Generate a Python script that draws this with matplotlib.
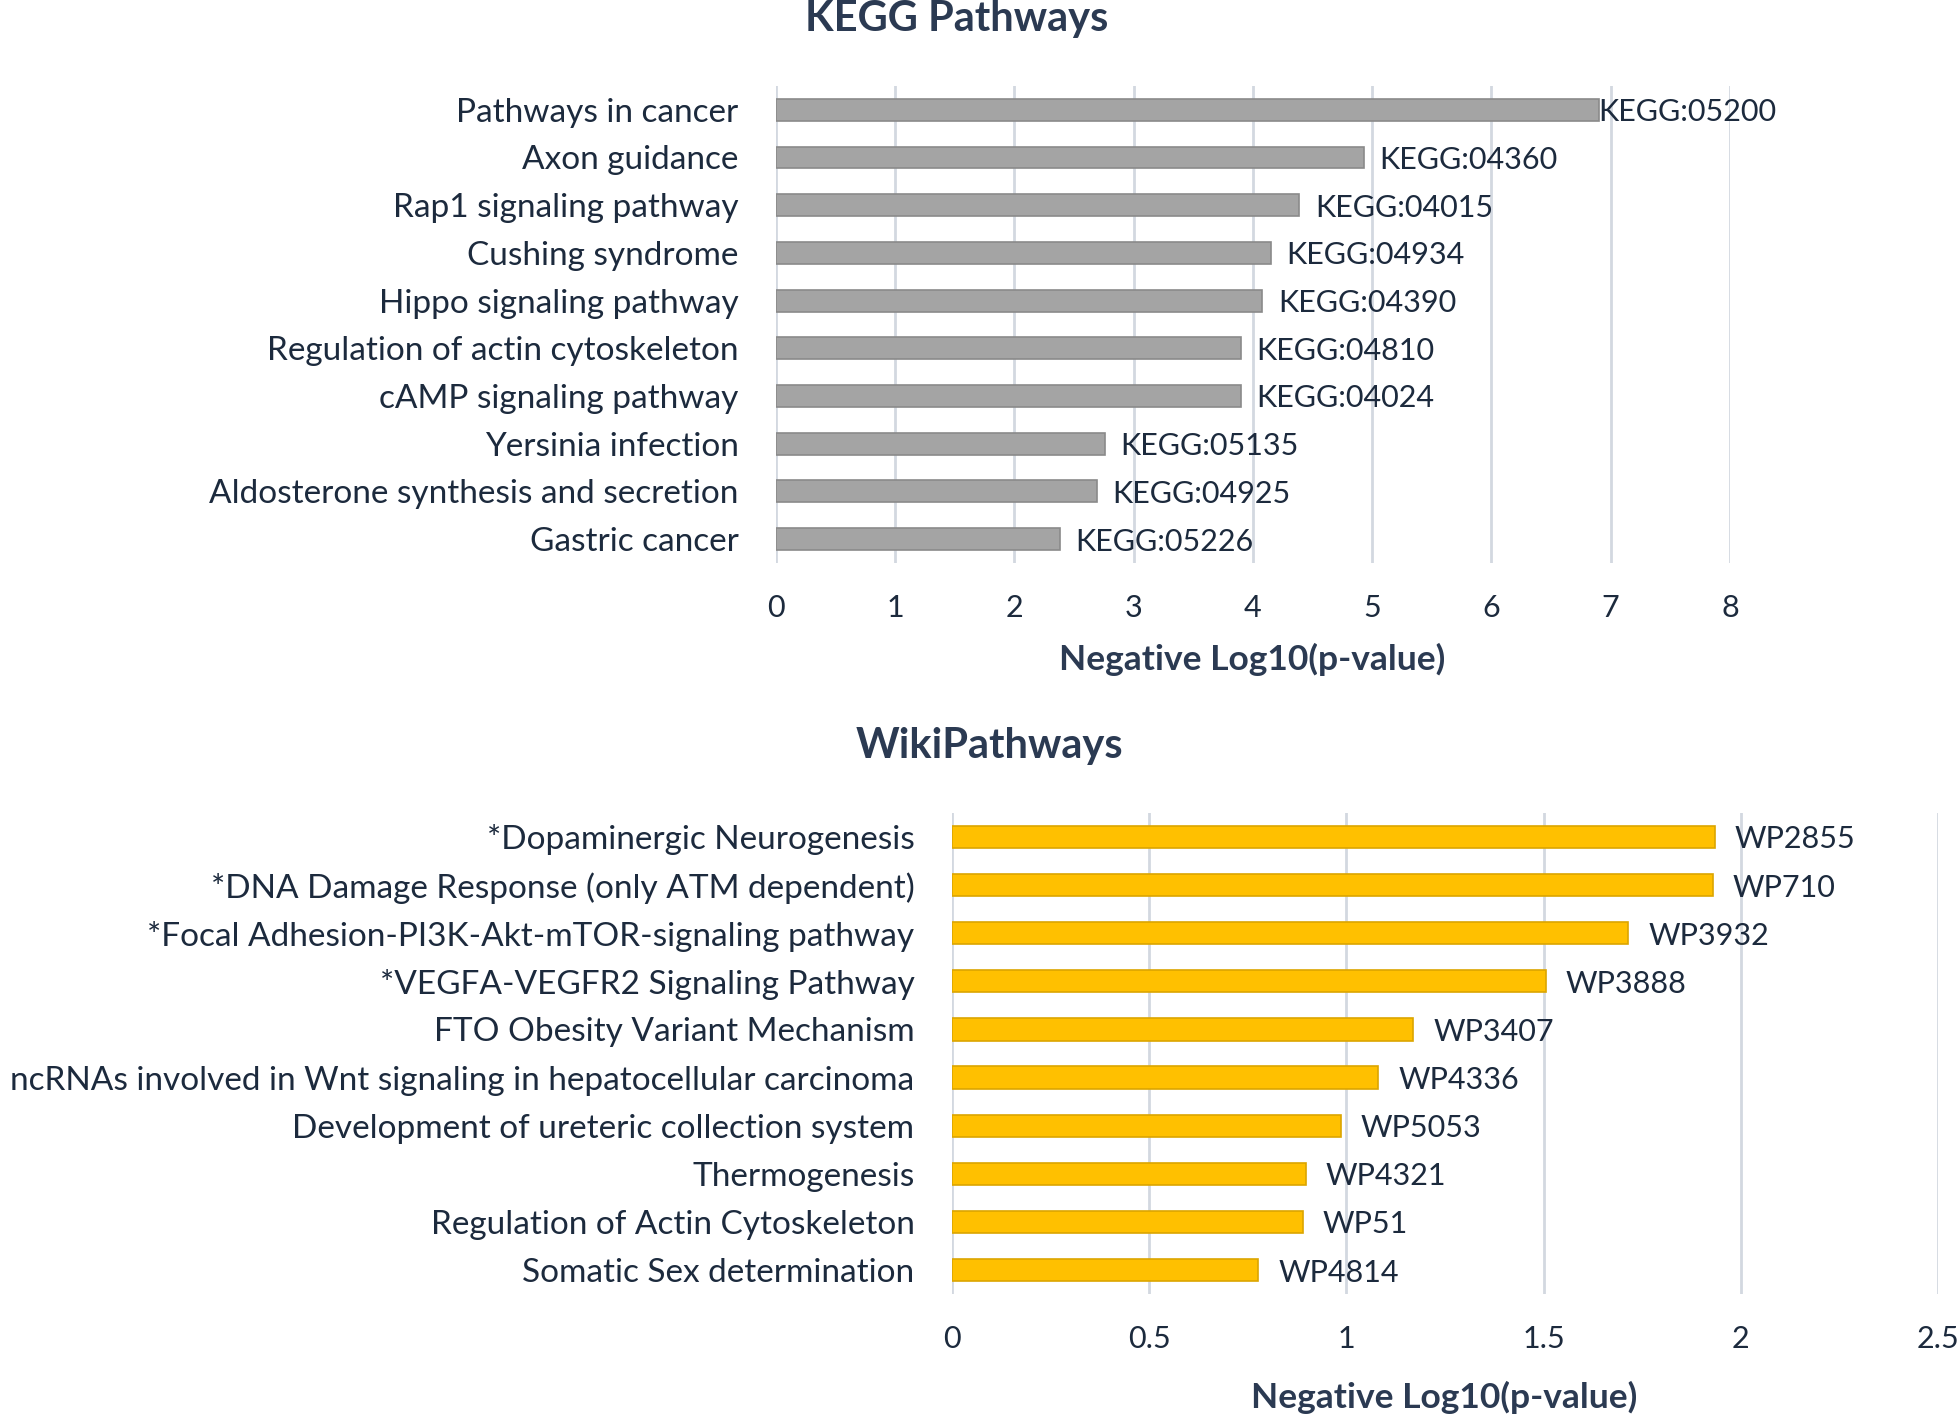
import matplotlib
matplotlib.use("Agg")
import matplotlib.pyplot as plt

plt.rcParams["font.family"] = ["Lato", "DejaVu Sans"]

kegg_names = [
    "Pathways in cancer", "Axon guidance", "Rap1 signaling pathway",
    "Cushing syndrome", "Hippo signaling pathway",
    "Regulation of actin cytoskeleton", "cAMP signaling pathway",
    "Yersinia infection", "Aldosterone synthesis and secretion",
    "Gastric cancer",
]
kegg_ids = [
    "KEGG:05200", "KEGG:04360", "KEGG:04015", "KEGG:04934", "KEGG:04390",
    "KEGG:04810", "KEGG:04024", "KEGG:05135", "KEGG:04925", "KEGG:05226",
]
kegg_vals = [6.90, 4.93, 4.39, 4.15, 4.08, 3.90, 3.90, 2.76, 2.69, 2.38]
kegg_ticks = [0, 1, 2, 3, 4, 5, 6, 7, 8]

wiki_names = [
    "*Dopaminergic Neurogenesis",
    "*DNA Damage Response (only ATM dependent)",
    "*Focal Adhesion-PI3K-Akt-mTOR-signaling pathway",
    "*VEGFA-VEGFR2 Signaling Pathway",
    "FTO Obesity Variant Mechanism",
    "ncRNAs involved in Wnt signaling in hepatocellular carcinoma",
    "Development of ureteric collection system",
    "Thermogenesis",
    "Regulation of Actin Cytoskeleton",
    "Somatic Sex determination",
]
wiki_ids = [
    "WP2855", "WP710", "WP3932", "WP3888", "WP3407",
    "WP4336", "WP5053", "WP4321", "WP51", "WP4814",
]
wiki_vals = [1.934, 1.930, 1.715, 1.505, 1.170, 1.081, 0.987, 0.897, 0.889, 0.777]
wiki_ticks = [0, 0.5, 1, 1.5, 2, 2.5]
wiki_tick_labels = ["0", "0.5", "1", "1.5", "2", "2.5"]

TEXT = "#1c2a3d"
TITLE = "#2b3a52"
GRID = "#d3d8e0"
FS_NAME = 24
FS_ID = 22
FS_TICK = 22


def panel(ax, names, ids, vals, ticks, tick_labels, color, edge, xmax, pad, tight_over):
    y = list(range(len(names)))
    ax.barh(y, vals, height=0.46, color=color, edgecolor=edge, linewidth=1.2, zorder=3)
    for yi, v, lab in zip(y, vals, ids):
        off = 0 if v > tight_over else pad
        ax.text(v + off, yi, lab, va="center_baseline", ha="left", fontsize=FS_ID,
                color=TEXT, zorder=4)
    ax.set_ylim(len(names) - 0.5, -0.5)
    ax.set_xlim(0, xmax)
    ax.set_yticks(y)
    ax.set_yticklabels(names, fontsize=FS_NAME, color=TEXT, va="center_baseline")
    ax.set_xticks(ticks)
    ax.set_xticklabels(tick_labels, fontsize=FS_TICK, color=TEXT)
    ax.tick_params(axis="both", length=0)
    ax.tick_params(axis="y", pad=27)
    ax.tick_params(axis="x", pad=22)
    ax.grid(axis="x", color=GRID, linewidth=2, zorder=0)
    for s in ax.spines.values():
        s.set_visible(False)


fig = plt.figure(figsize=(19.6, 14.18), dpi=100)

ax1 = fig.add_axes([0.3959, 0.6030, 0.4867, 0.3364])
panel(ax1, kegg_names, kegg_ids, kegg_vals, kegg_ticks,
      [str(t) for t in kegg_ticks], "#a4a4a4", "#8a8a8a", 8, 0.13, 6.5)

ax2 = fig.add_axes([0.4857, 0.0874, 0.5031, 0.3393])
panel(ax2, wiki_names, wiki_ids, wiki_vals, wiki_ticks, wiki_tick_labels,
      "#ffc000", "#dca500", 2.5, 0.05, 9)

fig.text(0.488, 1 - 19 / 1418, "KEGG Pathways", ha="center", va="center",
         fontsize=30, fontweight="bold", color=TITLE)
fig.text(0.639, 1 - 659 / 1418, "Negative Log10(p-value)", ha="center", va="center",
         fontsize=25.5, fontweight="bold", color=TITLE)
fig.text(0.505, 1 - 746 / 1418, "WikiPathways", ha="center", va="center",
         fontsize=30, fontweight="bold", color=TITLE)
fig.text(0.737, 1 - 1397 / 1418, "Negative Log10(p-value)", ha="center", va="center",
         fontsize=25.5, fontweight="bold", color=TITLE)

fig.savefig("out.png", dpi=100)
